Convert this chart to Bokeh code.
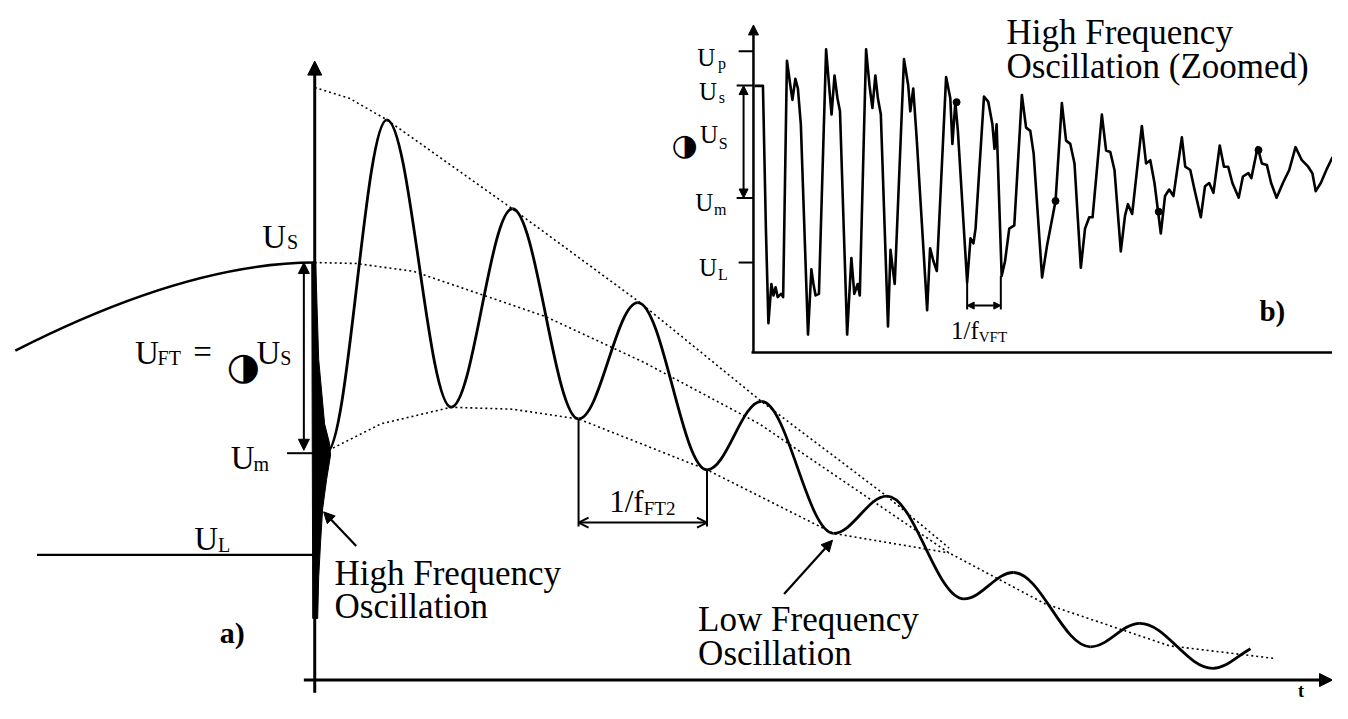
import numpy as np
from bokeh.plotting import figure
from bokeh.models import Range1d, Arrow, NormalHead, OpenHead
from bokeh.core.properties import value
from bokeh.embed import file_html
from bokeh.resources import INLINE

# ---------------- data: panel a) (diagram units: t to the right, U downwards) ----------------
lf_t = [330, 391, 456, 518, 585, 645, 715, 770, 843, 897, 975, 1025, 1103, 1153, 1227, 1265]
lf_u = [462, 122, 416, 213, 428, 309, 480, 410, 545, 507, 612, 585, 661, 637, 683, 663]

env_upper_t = [318, 353, 391, 518, 646, 770, 897, 960]
env_upper_u = [89, 100, 122, 213, 308, 410, 507, 560]
env_mid_t = [318, 360, 418, 551, 651, 768, 960, 1057, 1183, 1290]
env_mid_u = [268, 269, 277, 323, 370, 433, 565, 617, 660, 673]
env_low_t = [332, 385, 456, 518, 585, 715, 843, 960]
env_low_u = [460, 433, 416, 418, 428, 480, 545, 565]

U_S_level = 268
U_m_level = 463
U_L_level = 567

prefault_t = [15, 318]
prefault_u = [358, U_S_level]

hf_t = [315, 319, 322, 328, 333, 334, 330, 326, 324, 322, 321, 316]
hf_u = [268, 268, 367, 433, 453, 465, 490, 520, 553, 590, 632, 632]

ft2_t = [585, 715]          # two troughs marking 1/f_FT2
ft2_u = [428, 480]

# ---------------- data: panel b) zoomed high-frequency oscillation ----------------
inset_t = [195, 215, 222, 228, 235, 240, 245, 250, 258, 263, 272, 280, 285, 292, 298, 305,
           322, 330, 335, 340, 348, 365, 372, 378, 385, 392, 398, 415, 425, 432, 440, 445,
           460, 468, 475, 482, 488, 495, 512, 518, 523, 528, 550, 560, 565, 572, 580, 605,
           612, 620, 628, 650, 660, 665, 672, 678, 700, 708, 715, 720, 740, 750, 760, 765,
           770, 782, 790, 800, 812, 830, 840, 850, 858, 878, 890, 910, 925, 935, 945, 955,
           970, 980, 990, 998, 1020, 1030, 1040, 1050, 1065, 1075, 1082, 1092, 1115, 1125,
           1135, 1145, 1160, 1170, 1180, 1190, 1210, 1218, 1230, 1240, 1255, 1265, 1275, 1285,
           1300, 1310, 1320, 1330, 1345, 1355, 1368, 1375, 1390, 1400, 1412, 1422, 1435, 1450,
           1465, 1480, 1495, 1510, 1520, 1528, 1540, 1555, 1568]
inset_u = [262, 262, 700, 990, 870, 905, 880, 910, 900, 910, 185, 260, 305, 240, 270, 380,
           1025, 825, 870, 905, 900, 150, 260, 350, 230, 300, 340, 1025, 790, 900, 870, 905,
           150, 260, 330, 230, 300, 350, 1000, 765, 820, 870, 180, 260, 340, 270, 420, 950,
           760, 800, 830, 235, 300, 440, 312, 400, 865, 730, 745, 700, 295, 310, 380, 455,
           380, 845, 800, 700, 690, 290, 390, 400, 470, 850, 750, 615, 315, 430, 440, 500,
           820, 700, 665, 665, 350, 460, 465, 520, 770, 660, 625, 655, 385, 500,
           490, 560, 715, 600, 580, 600, 420, 510, 520, 580, 665, 570, 560, 590,
           445, 510, 510, 560, 605, 540, 530, 545, 450, 500, 505, 560, 605, 560,
           520, 450, 490, 510, 530, 585, 560, 515, 480]
inset_dot_t = [675, 910, 1155, 1392]
inset_dot_u = [312, 615, 648, 459]
vft_t = [700, 780]
vft_u = [865, 845]

# inset placement (layout)
IX0, ISX, ISY = 680.0, 2.347, 3.0
def ix(a):
    return IX0 + np.asarray(a, dtype=float) / ISX
def iy(a):
    return np.asarray(a, dtype=float) / ISY

# ---------------- figure ----------------
p = figure(width=1332, height=703, x_range=Range1d(0, 1348), y_range=Range1d(719, 0),
           output_backend="svg", toolbar_location=None,
           x_axis_location=None, y_axis_location=None, min_border=0)
p.grid.visible = False
p.outline_line_color = None
p.background_fill_color = "white"
p.border_fill_color = "white"

SERIF = value("Liberation Serif")
def label(xs, ys, texts, size, style="normal", align="left", font=SERIF, baseline="alphabetic"):
    p.text(x=xs, y=ys, text=texts, text_font=font, text_font_size=value(f"{size}px"),
           text_font_style=style, text_baseline=baseline, text_align=align,
           text_color="black")

DOT = dict(line_color="black", line_width=1.6, line_dash="2 3")

# envelopes
p.line(env_upper_t, env_upper_u, **DOT)
p.line(env_mid_t, env_mid_u, **DOT)
p.line(env_low_t, env_low_u, **DOT)

# low-frequency oscillation through its extrema
k = 0.36
t0 = np.array(lf_t[:-1], float); t1 = np.array(lf_t[1:], float)
u0 = np.array(lf_u[:-1], float); u1 = np.array(lf_u[1:], float)
dt = t1 - t0
cx0 = t0 + k * dt; cy0 = u0.copy()
cx1 = t1 - k * dt; cy1 = u1.copy()
cy1[-1] = u1[-1] + 0.55 * k * dt[-1]
p.bezier(x0=t0, y0=u0, x1=t1, y1=u1, cx0=cx0, cy0=cy0, cx1=cx1, cy1=cy1,
         line_color="black", line_width=2.8)

# pre-fault curve
p.quadratic(x0=[prefault_t[0]], y0=[prefault_u[0]], x1=[prefault_t[1]], y1=[prefault_u[1]],
            cx=[190], cy=[U_S_level], line_color="black", line_width=2.5)
# U_L line and U_m tick
p.line([37, 318], [U_L_level, U_L_level], line_color="black", line_width=2.2)
p.line([290, 318], [U_m_level, U_m_level], line_color="black", line_width=2)

# high frequency smear
p.patch(hf_t, hf_u, color="black")

# axes
p.add_layout(Arrow(end=NormalHead(size=14, fill_color="black"), x_start=318, y_start=708,
                   x_end=318, y_end=62, line_width=3))
p.add_layout(Arrow(end=NormalHead(size=13, fill_color="black"), x_start=307, y_start=695,
                   x_end=1348, y_end=695, line_width=3))

# U_FT double arrow
p.add_layout(Arrow(start=NormalHead(size=11), end=NormalHead(size=11), x_start=307,
                   y_start=U_m_level - 3, x_end=307, y_end=U_S_level, line_width=2))

# 1/f_FT2 bracket
for t, u in zip(ft2_t, ft2_u):
    p.line([t, t], [u, 538], line_color="black", line_width=2)
p.add_layout(Arrow(start=OpenHead(size=10, line_width=2), end=OpenHead(size=10, line_width=2),
                   x_start=ft2_t[0], y_start=534, x_end=ft2_t[1], y_end=534, line_width=2))

# annotation arrows
p.add_layout(Arrow(end=NormalHead(size=11), x_start=360, y_start=558, x_end=327, y_end=523,
                   line_width=2.2))
p.add_layout(Arrow(end=NormalHead(size=11), x_start=793, y_start=607, x_end=842, y_end=552,
                   line_width=2.2))

# main labels
label([265, 136, 259, 233, 196], [242, 361, 361, 468, 551], ["U", "U", "U", "U", "U"], 33)
label([290, 159, 283, 256, 220], [247, 366, 366, 474, 557], ["S", "FT", "S", "m", "L"], 20)
label([195], [360], ["="], 33)
label([229], [374], ["◑"], 38, font=value("DejaVu Sans"))
label([338, 338], [586, 620], ["High Frequency", "Oscillation"], 35)
label([706, 706], [633, 668], ["Low Frequency", "Oscillation"], 35)
label([616], [512], ["1/f"], 31)
label([651], [520], ["FT2"], 19)
label([222], [646], ["a)"], 30, "bold")
label([1316], [716], ["t"], 18, "bold", "center", baseline="bottom")

# ---------------- inset b) ----------------
p.add_layout(Arrow(end=NormalHead(size=10, fill_color="black"), x_start=762, y_start=360,
                   x_end=762, y_end=25, line_width=2.5))
p.line([760, 1348], [360, 360], line_color="black", line_width=2.5)
for lvl, x0 in zip([52, 87, 202, 268], [747, 745, 745, 747]):
    p.line([x0, 762], [lvl, lvl], line_color="black", line_width=2)
p.add_layout(Arrow(start=NormalHead(size=9), end=NormalHead(size=9), x_start=752, y_start=87,
                   x_end=752, y_end=202, line_width=2))

p.line(ix(inset_t), iy(inset_u), line_color="black", line_width=2.6, line_join="round")
p.scatter(ix(inset_dot_t), iy(inset_dot_u), size=7, color="black")

for t, u in zip(vft_t, vft_u):
    p.line([ix([t])[0]] * 2, [iy([u])[0], 316], line_color="black", line_width=2)
p.add_layout(Arrow(start=NormalHead(size=7), end=NormalHead(size=7),
                   x_start=float(ix([vft_t[0]])[0]), y_start=312,
                   x_end=float(ix([vft_t[1]])[0]), y_end=312, line_width=2))

label([705, 707, 708, 703, 707], [58, 93, 137, 207, 273], ["U", "U", "U", "U", "U"], 25)
label([726, 727, 727, 722, 726], [64, 99, 146, 214, 280], ["p", "s", "S", "m", "L"], 16)
label([679], [147], ["◑"], 30, font=value("DejaVu Sans"))
label([962], [338], ["1/f"], 25)
label([990], [344], ["VFT"], 15)
label([1018, 1018], [33, 68], ["High Frequency", "Oscillation (Zoomed)"], 35)
label([1274], [318], ["b)"], 29, "bold")

open("out.html", "w").write(file_html(p, INLINE))
